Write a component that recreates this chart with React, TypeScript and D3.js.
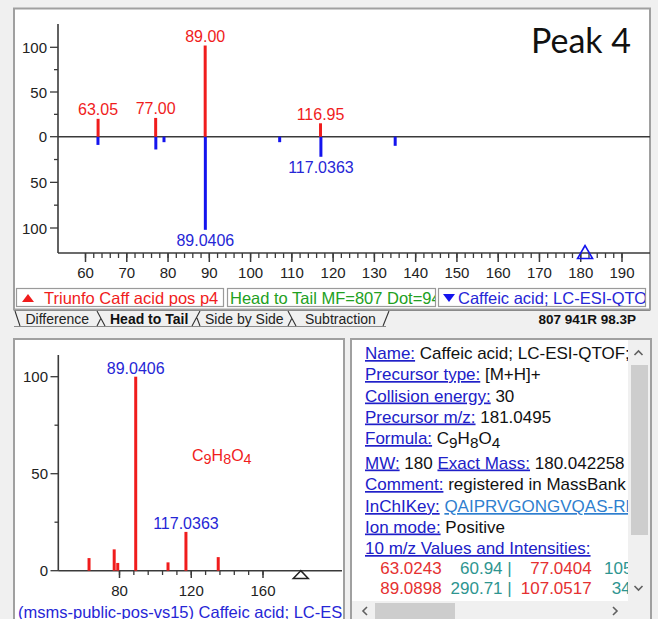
import React from 'react';
import * as d3 from 'd3';

const FONT = "'Liberation Sans', Arial, sans-serif";

// ---- Head-to-tail data ----
const sampleMz = [63.05, 77.0, 89.0, 116.95];
const sampleInt = [20, 21, 102, 15];
const sampleLabels = ['63.05', '77.00', '89.00', '116.95'];

const refMz = [63.02, 77.04, 79.02, 89.04, 107.05, 117.04, 135.04];
const refMirrorInt = [9, 14, 6, 102, 6, 22, 10];
const refLabelMz = [89.04, 117.04];
const refLabelInt = [102, 22];
const refLabels = ['89.0406', '117.0363'];

// ---- Reference spectrum (lower left) ----
const refInt = [6.5, 11, 4, 100, 4.3, 20, 7];
const refPlotLabelMz = [89.04, 117.04];
const refPlotLabelInt = [100, 20];
const precursorMz = 181.0495;

// ---- Ticks ----
const topXMajor = d3.range(60, 191, 10);
const topXMinor = d3.range(60, 191, 2);
const yMajorUp = [0, 50, 100];
const yMajorDown = [50, 100];
const yMinor = [25, 75];
const refXMajor = [80, 120, 160];
const refXMinor = d3.range(80, 161, 8);
const refYMajor = [0, 50, 100];

// ---- Info panel ----
type Part = { t: string; k: 'l' | 'v' | 'a' | 'f' };
const infoLines: Part[][] = [
  [{ t: 'Name:', k: 'l' }, { t: ' Caffeic acid; LC-ESI-QTOF; MS2', k: 'v' }],
  [{ t: 'Precursor type:', k: 'l' }, { t: ' [M+H]+', k: 'v' }],
  [{ t: 'Collision energy:', k: 'l' }, { t: ' 30', k: 'v' }],
  [{ t: 'Precursor m/z:', k: 'l' }, { t: ' 181.0495', k: 'v' }],
  [{ t: 'Formula:', k: 'l' }, { t: ' ', k: 'v' }, { t: 'C9H8O4', k: 'f' }],
  [{ t: 'MW:', k: 'l' }, { t: ' 180 ', k: 'v' }, { t: 'Exact Mass:', k: 'l' }, { t: ' 180.042258', k: 'v' }],
  [{ t: 'Comment:', k: 'l' }, { t: ' registered in MassBank', k: 'v' }],
  [{ t: 'InChIKey:', k: 'l' }, { t: ' ', k: 'v' }, { t: 'QAIPRVGONGVQAS-RMKNXTFCSA-N', k: 'a' }],
  [{ t: 'Ion mode:', k: 'l' }, { t: ' Positive', k: 'v' }],
  [{ t: '10 m/z Values and Intensities:', k: 'l' }],
];
const infoBaselines = [359, 380, 401.5, 422.5, 444, 468.5, 490, 512, 532.5, 554];
const listMzA = ['63.0243', '89.0898'];
const listIntA = ['60.94 |', '290.71 |'];
const listMzB = ['77.0404', '107.0517'];
const listIntB = ['105', '34.9'];
const listBaselines = [574, 594];

const RED = '#f01c1c';
const BLUE = '#1414ee';
const LBLUE = '#2626d6';
const AXIS = '#3a3a3a';

function Formula({ x, y, size, fill }: { x?: number; y: number; size: number; fill: string }) {
  const parts = [['C', 0], ['9', 1], ['H', 0], ['8', 1], ['O', 0], ['4', 1]] as [string, number][];
  let prev = 0;
  return (
    <>
      {parts.map(([s, sub], i) => {
        const dy = (sub ? 3.5 : 0) - (prev ? 3.5 : 0);
        prev = sub;
        return (
          <tspan key={i} x={i === 0 ? x : undefined} dy={dy} fontSize={sub ? size * 0.9 : size} fill={fill}>
            {s}
          </tspan>
        );
      })}
    </>
  );
}

export default function App() {
  const xTop = d3.scaleLinear().domain([60, 190]).range([85.5, 622]);
  const yUp = d3.scaleLinear().domain([0, 100]).range([136.7, 47.3]);
  const yDown = d3.scaleLinear().domain([0, 100]).range([136.7, 228]);
  const xRef = d3.scaleLinear().domain([80, 160]).range([119.5, 263]);
  const yRef = d3.scaleLinear().domain([0, 100]).range([570.7, 376.7]);

  const px = xTop(precursorMz);
  const pr = xRef(precursorMz);

  const chevron = (cx: number, cy: number, dir: 'u' | 'd' | 'l' | 'r') => {
    const s = 4;
    let d = '';
    if (dir === 'u') d = `M${cx - s},${cy + s / 2} L${cx},${cy - s / 2} L${cx + s},${cy + s / 2}`;
    if (dir === 'd') d = `M${cx - s},${cy - s / 2} L${cx},${cy + s / 2} L${cx + s},${cy - s / 2}`;
    if (dir === 'l') d = `M${cx + s / 2},${cy - s} L${cx - s / 2},${cy} L${cx + s / 2},${cy + s}`;
    if (dir === 'r') d = `M${cx - s / 2},${cy - s} L${cx + s / 2},${cy} L${cx - s / 2},${cy + s}`;
    return <path d={d} fill="none" stroke="#606060" strokeWidth={1.6} />;
  };

  return (
    <svg
      width={658}
      height={619}
      style={{ position: 'absolute', left: 0, top: 0 }}
      fontFamily={FONT}
    >
      <defs>
        <clipPath id="clipLeft"><rect x={15} y={340} width={328} height={279} /></clipPath>
        <clipPath id="clipInfo"><rect x={352} y={340} width={276} height={261} /></clipPath>
        <clipPath id="clipL1"><rect x={17} y={288} width={206} height={18} /></clipPath>
        <clipPath id="clipL2"><rect x={228} y={288} width={207} height={18} /></clipPath>
        <clipPath id="clipL3"><rect x={439} y={288} width={206} height={18} /></clipPath>
      </defs>
      <rect x={0} y={0} width={658} height={619} fill="#f0f0f0" />

      {/* ===== Top panel ===== */}
      <rect x={14} y={8.5} width={636} height={301} fill="#ffffff" stroke="#a0a0a0" strokeWidth={2} />
      <text x={531} y={53.3} fontFamily="Lato, 'Open Sans', sans-serif" fontSize={34} fill="#111">Peak 4</text>

      {/* axes */}
      <line x1={58} x2={58} y1={24} y2={253} stroke={AXIS} strokeWidth={1.6} />
      <line x1={58} x2={650} y1={136.7} y2={136.7} stroke={AXIS} strokeWidth={1.6} />
      <line x1={58} x2={650} y1={253} y2={253} stroke={AXIS} strokeWidth={1.6} />
      {yMajorUp.map((v) => (
        <g key={'yu' + v}>
          <line x1={50} x2={58} y1={yUp(v)} y2={yUp(v)} stroke={AXIS} strokeWidth={1.3} />
          <text x={47} y={yUp(v)} textAnchor="end" dominantBaseline="central" fontSize={15} fill="#222">{v}</text>
        </g>
      ))}
      {yMajorDown.map((v) => (
        <g key={'yd' + v}>
          <line x1={50} x2={58} y1={yDown(v)} y2={yDown(v)} stroke={AXIS} strokeWidth={1.3} />
          <text x={47} y={yDown(v)} textAnchor="end" dominantBaseline="central" fontSize={15} fill="#222">{v}</text>
        </g>
      ))}
      {yMinor.map((v) => (
        <g key={'ym' + v}>
          <line x1={54} x2={58} y1={yUp(v)} y2={yUp(v)} stroke={AXIS} strokeWidth={1.3} />
          <line x1={54} x2={58} y1={yDown(v)} y2={yDown(v)} stroke={AXIS} strokeWidth={1.3} />
        </g>
      ))}
      {topXMinor.map((v) => (
        <line key={'xm' + v} x1={xTop(v)} x2={xTop(v)} y1={253} y2={258} stroke={AXIS} strokeWidth={1.3} />
      ))}
      {topXMajor.map((v) => (
        <g key={'xM' + v}>
          <line x1={xTop(v)} x2={xTop(v)} y1={253} y2={262} stroke={AXIS} strokeWidth={1.5} />
          <text x={xTop(v)} y={272} textAnchor="middle" dominantBaseline="central" fontSize={15} fill="#222">{v}</text>
        </g>
      ))}

      {/* reference bars (down) */}
      {refMz.map((m, i) => (
        <line key={'rb' + i} x1={xTop(m)} x2={xTop(m)} y1={yDown(0)} y2={yDown(refMirrorInt[i])} stroke={BLUE} strokeWidth={3} />
      ))}
      {/* sample bars (up) */}
      {sampleMz.map((m, i) => (
        <line key={'sb' + i} x1={xTop(m)} x2={xTop(m)} y1={yUp(0)} y2={yUp(sampleInt[i])} stroke={RED} strokeWidth={3} />
      ))}
      {sampleMz.map((m, i) => (
        <text key={'sl' + i} x={xTop(m)} y={yUp(sampleInt[i]) - 3.5} textAnchor="middle" fontSize={16} fill={RED}>
          {sampleLabels[i]}
        </text>
      ))}
      {refLabelMz.map((m, i) => (
        <text key={'rl' + i} x={xTop(m)} y={yDown(refLabelInt[i]) + 16} textAnchor="middle" fontSize={16} fill={LBLUE}>
          {refLabels[i]}
        </text>
      ))}
      <path d={`M${px},245.5 L${px - 7.5},258.5 L${px + 7.5},258.5 Z`} fill="none" stroke={BLUE} strokeWidth={1.6} />

      {/* legend boxes */}
      <rect x={16.5} y={288.5} width={207} height={18} fill="#fff" stroke="#9a9a9a" strokeWidth={1.2} />
      <rect x={227.5} y={288.5} width={208} height={18} fill="#fff" stroke="#9a9a9a" strokeWidth={1.2} />
      <rect x={438.5} y={288.5} width={207} height={18} fill="#fff" stroke="#9a9a9a" strokeWidth={1.2} />
      <g clipPath="url(#clipL1)">
        <path d="M22,302 L28,294 L34,302 Z" fill={RED} />
        <text x={44} y={303.5} fontSize={16.5} fill={RED}>Triunfo Caff acid pos p4</text>
      </g>
      <g clipPath="url(#clipL2)">
        <text x={230} y={303.5} fontSize={16.5} fill="#22a022">Head to Tail MF=807 Dot=941</text>
      </g>
      <g clipPath="url(#clipL3)">
        <path d="M443,294 L455,294 L449,302 Z" fill={BLUE} />
        <text x={458} y={303.5} fontSize={16.5} fill={LBLUE}>Caffeic acid; LC-ESI-QTOF; MS2</text>
      </g>

      {/* tabs row */}
      <rect x={15} y={310} width={634} height={17} fill="#f0f0f0" />
      <line x1={14} x2={650} y1={310.5} y2={310.5} stroke="#8a8a8a" strokeWidth={1} />
      <line x1={14} x2={386} y1={326.5} y2={326.5} stroke="#8a8a8a" strokeWidth={1} />
      <path d="M15,311 L20,326" stroke="#333" strokeWidth={1.1} fill="none" />
      <path d="M97,311 L105,326 M101,318 L97,326" stroke="#333" strokeWidth={1.1} fill="none" />
      <path d="M200,311 L192,326 M197,318 L200,326" stroke="#333" strokeWidth={1.1} fill="none" />
      <path d="M288,311 L296,326 M292,318 L288,326" stroke="#333" strokeWidth={1.1} fill="none" />
      <path d="M389,311 L383,326" stroke="#333" strokeWidth={1.1} fill="none" />
      <text x={25.5} y={324} fontSize={14} fill="#222">Difference</text>
      <text x={110} y={324} fontSize={14} fontWeight="bold" fill="#111">Head to Tail</text>
      <text x={205} y={324} fontSize={14} fill="#222">Side by Side</text>
      <text x={305} y={324} fontSize={14} fill="#222">Subtraction</text>
      <text x={636} y={323.5} textAnchor="end" fontSize={13.5} fontWeight="bold" fill="#111">807 941R 98.3P</text>

      {/* ===== Lower-left panel ===== */}
      <rect x={14} y={339} width={330} height={285} fill="#ffffff" stroke="#a0a0a0" strokeWidth={2} />
      <line x1={58.3} x2={58.3} y1={355} y2={570.7} stroke={AXIS} strokeWidth={1.6} />
      <line x1={58.3} x2={342} y1={570.7} y2={570.7} stroke={AXIS} strokeWidth={1.6} />
      {refYMajor.map((v) => (
        <g key={'ry' + v}>
          <line x1={50.5} x2={58.3} y1={yRef(v)} y2={yRef(v)} stroke={AXIS} strokeWidth={1.3} />
          <text x={48} y={yRef(v)} textAnchor="end" dominantBaseline="central" fontSize={15} fill="#222">{v}</text>
        </g>
      ))}
      {yMinor.map((v) => (
        <line key={'rym' + v} x1={54.5} x2={58.3} y1={yRef(v)} y2={yRef(v)} stroke={AXIS} strokeWidth={1.3} />
      ))}
      {refXMinor.map((v) => (
        <line key={'rxm' + v} x1={xRef(v)} x2={xRef(v)} y1={570.7} y2={575} stroke={AXIS} strokeWidth={1.3} />
      ))}
      {refXMajor.map((v) => (
        <g key={'rxM' + v}>
          <line x1={xRef(v)} x2={xRef(v)} y1={570.7} y2={578} stroke={AXIS} strokeWidth={1.5} />
          <text x={xRef(v)} y={590} textAnchor="middle" dominantBaseline="central" fontSize={15} fill="#222">{v}</text>
        </g>
      ))}
      {refMz.map((m, i) => (
        <line key={'rp' + i} x1={xRef(m)} x2={xRef(m)} y1={yRef(0)} y2={yRef(refInt[i])} stroke={RED} strokeWidth={3} />
      ))}
      {refPlotLabelMz.map((m, i) => (
        <text key={'rpl' + i} x={xRef(m)} y={yRef(refPlotLabelInt[i]) - 3.2} textAnchor="middle" fontSize={16} fill={LBLUE}>
          {refLabels[i]}
        </text>
      ))}
      <text y={460.5} fontSize={16} fill={RED}>
        <Formula x={192} y={460.5} size={16} fill={RED} />
      </text>
      <path d={`M${pr},570.7 L${pr - 7.5},578.5 L${pr + 7.5},578.5 Z`} fill="#fff" stroke="#222" strokeWidth={1.5} />
      <g clipPath="url(#clipLeft)">
        <text x={18} y={618} fontSize={16.5} fill={LBLUE}>(msms-public-pos-vs15) Caffeic acid; LC-ESI-QTOF</text>
      </g>

      {/* ===== Lower-right panel ===== */}
      <rect x={351} y={339} width={300} height={285} fill="#ffffff" stroke="#a0a0a0" strokeWidth={2} />
      <g clipPath="url(#clipInfo)">
        {infoLines.map((parts, li) => (
          <text key={'il' + li} x={365} y={infoBaselines[li]} fontSize={17} fill="#111">
            {parts.map((p, pi) =>
              p.k === 'f' ? (
                <Formula key={pi} y={infoBaselines[li]} size={17} fill="#111" />
              ) : (
                <tspan
                  key={pi}
                  fill={p.k === 'l' ? '#2020c8' : p.k === 'a' ? '#2f7fcf' : '#111'}
                  textDecoration={p.k === 'l' || p.k === 'a' ? 'underline' : undefined}
                  style={{ whiteSpace: 'pre' }}
                >
                  {p.t}
                </tspan>
              )
            )}
          </text>
        ))}
        {listBaselines.map((by, r) => (
          <g key={'lr' + r} fontSize={17}>
            <text x={441.7} y={by} textAnchor="end" fill="#e53030">{listMzA[r]}</text>
            <text x={511.7} y={by} textAnchor="end" fill="#2e9590">{listIntA[r]}</text>
            <text x={591.7} y={by} textAnchor="end" fill="#e53030">{listMzB[r]}</text>
            <text x={r === 0 ? 604 : 611.7} y={by} fill="#2e9590">{listIntB[r]}</text>
          </g>
        ))}
      </g>
      {/* scrollbars */}
      <rect x={628} y={340} width={22} height={279} fill="#f0f0f0" />
      <rect x={631} y={365} width={17} height={170} fill="#cdcdcd" />
      <rect x={352} y={601} width={276} height={18} fill="#f0f0f0" />
      <rect x={375} y={603} width={80} height={16} fill="#cdcdcd" />
      {chevron(638.5, 353, 'u')}
      {chevron(638.5, 588, 'd')}
      {chevron(365, 611, 'l')}
      {chevron(615, 611, 'r')}
    </svg>
  );
}
